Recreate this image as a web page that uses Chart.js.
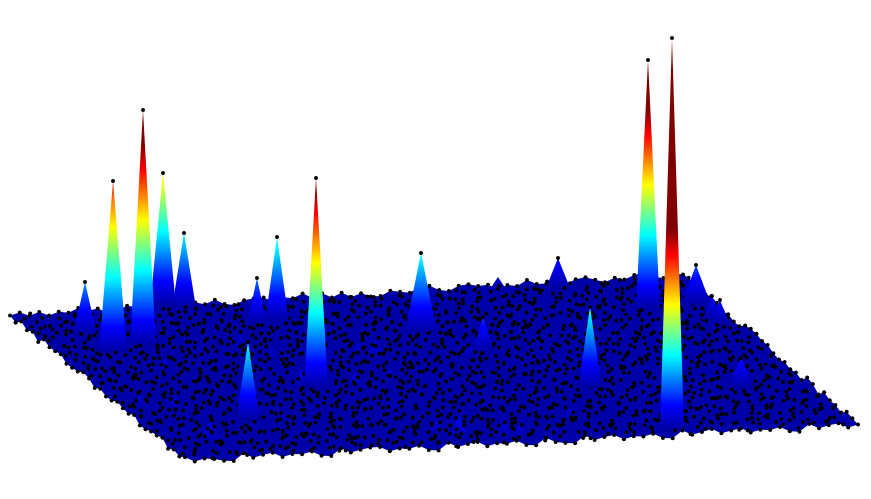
<!DOCTYPE html>
<html><head><meta charset="utf-8">
<style>html,body{margin:0;padding:0;background:#fff}canvas{display:block}</style>
<script src="https://cdn.jsdelivr.net/npm/chart.js@4"></script></head>
<body><canvas id="c" width="871" height="499"></canvas>
<script>
// Surface corners: left, back, right, front
const cornerX = [10, 683, 858, 185];
const cornerY = [315, 274, 425, 460];
// Floor relief read as small digit offsets, one string per row, back to front
const floorRows = [
"4726153846027519941638205771649382715006429931785604293371684052793164",
"1583607942635118407295361480072653917408263519470283651947206381594726",
"8140738295116408273591640082537196428053371964820537196480257319640825",
"3659026471830592644718305926718305926471835902677183590264473583902647",
"7291460538271496053827114960382749605338274196053827419605538274196053",
"0527918364470162938855120764391826047733915086242719053864118730629457",
"9406382957149063829571406382295714603829571460382957146038957146038295",
"5932014682593720146882593720146825937201468593720114685937014685937201",
"6618402975533170846229075138864420961735208147796350218864073915246083",
"8362514970386251497033862514970386251497368251497036825149703682514970",
"2604839572604839517226048395172604839572648395172604839517264839517260",
"3927150468812630974451862093377140582669031478825196340072563918841627",
"4791203864791520386447915203864791203864915203886479152038649152038649",
"9318054627931805462793118054627931805462731805462793180546273180546279",
"7250941386601837254499016248753362187094520736148895203176644098215736",
"1572964381572906438157729064381572906438572906438157290643572906438157",
"6834097251683409725168340097251683409725134097251683409725134097251683",
"2186473095514927038866130572491708826453390125764438019672255840936171",
"3049681725304968172530049681725304968172549681725304968172549681725304",
"7218593064721859306472218593064721859306418593064721859306418593064721",
"5709326184470825913362194057786031249558820637191446027358391176052843",
"4160752938416075293841160752938416075293607529384160752938607529384160",
"8529317406852931740688529317406852931740293174068529317406293174068529",
"1348860527793164025118275946603397812045562938074411695283706235841907",
"2697401835269740183526697401835269740183740183526974018357401835269740",
"5380692475381069247553810692475381069241069247538106924710692475381069",
"6092714835528140967373561820449167305288214069733551892406176320984515",
"9742630581974263058197742630581974263058263058197426305863058197426305",
"1405792631405879263114058792631405879265879263140587926387926314058792",
"6037281956037284195660372841956037284192841956037284195684195603728419",
"3891462073891546207338915462073891546204620738915462073862073891546207",
"8254109368254710936882547109368254710931093682547109369368254710936825"
];
// Tall peaks sorted by base position: x, top, base, half width
const peakX    = [558, 696, 184, 163, 648, 712, 720, 257, 277, 85, 421, 143, 113, 483, 316, 590, 741, 248, 672];
const peakTop  = [258, 265, 233, 173, 60, 296, 300, 278, 237, 282, 253, 110, 181, 317, 178, 307, 358, 342, 38];
const peakBase = [288, 305, 308, 306, 310, 320, 325, 325, 322, 335, 332, 345, 352, 352, 388, 388, 388, 420, 430];
const peakHalf = [12, 15, 12, 13, 12, 10, 10, 10, 12, 12, 16, 13, 14, 11, 12, 12, 13, 12, 12];
// Low hills on the floor
const hillX    = [498, 210, 459, 503, 436, 375, 358, 355, 165, 175, 140, 195, 272, 570, 708, 625, 398, 522, 300, 390, 240, 680, 520, 470, 120];
const hillTop  = [277, 422, 415, 418, 420, 340, 342, 372, 358, 396, 395, 340, 347, 408, 403, 368, 398, 326, 370, 368, 335, 350, 424, 344, 330];
const hillBase = [292, 445, 442, 438, 435, 360, 358, 390, 375, 412, 410, 355, 360, 424, 416, 380, 412, 340, 388, 384, 350, 372, 440, 360, 345];
const hillHalf = [10, 14, 11, 11, 11, 12, 9, 10, 9, 9, 8, 9, 9, 12, 11, 10, 10, 10, 10, 10, 10, 10, 10, 10, 9];
const jetStops = [[0,'#00009e'],[0.125,'#0000ff'],[0.375,'#00ffff'],[0.625,'#ffff00'],[0.875,'#ff0000'],[1,'#800000']];
const colourSpan = 200, reliefStep = 0.8, driftStep = 1.1;

const nv = floorRows.length, nu = floorRows[0].length;
function gridPoint(v, u, drift) {
  const a = u / (nu - 1), b = v / (nv - 1);
  const x = (1-a)*(1-b)*cornerX[0] + a*(1-b)*cornerX[1] + a*b*cornerX[2] + (1-a)*b*cornerX[3];
  const y = (1-a)*(1-b)*cornerY[0] + a*(1-b)*cornerY[1] + a*b*cornerY[2] + (1-a)*b*cornerY[3];
  const d = Number(floorRows[v][u]);
  const e = drift ? (Number(floorRows[(v + 7) % nv][(u + 3) % nu]) - 4.5) * driftStep : 0;
  return {x: x + e, y: y - (d - 4.5) * reliefStep + e * 0.42};
}
const edgeTop = [], edgeBottom = [], allDots = [];
for (let u = 0; u < nu; u++) edgeTop.push(gridPoint(0, u, false));
for (let v = 1; v < nv; v++) edgeTop.push(gridPoint(v, nu - 1, false));
for (let v = 0; v < nv; v++) edgeBottom.push(gridPoint(v, 0, false));
for (let u = 1; u < nu; u++) edgeBottom.push(gridPoint(nv - 1, u, false));
for (let v = 0; v < nv; v++) for (let u = 0; u < nu; u++) {
  const onEdge = v === 0 || u === 0 || v === nv - 1 || u === nu - 1;
  allDots.push(gridPoint(v, u, !onEdge));
}

function jetFill(base) {
  return (ctx) => {
    const s = ctx.chart.scales.y;
    const y0 = s ? s.getPixelForValue(base) : NaN, y1 = s ? s.getPixelForValue(base - colourSpan) : NaN;
    if (!Number.isFinite(y0) || !Number.isFinite(y1)) return '#00009e';
    const g = ctx.chart.ctx.createLinearGradient(0, y0, 0, y1);
    jetStops.forEach(([t, c]) => g.addColorStop(t, c));
    return g;
  };
}
function cone(x, top, base, half) {
  return {
    type: 'line',
    data: [{x: x - half, y: base}, {x, y: top}, {x: x + half, y: base}],
    borderWidth: 0, pointRadius: 0, tension: 0,
    fill: {value: base}, backgroundColor: jetFill(base)
  };
}
function dotLayer(data) {
  return {type: 'scatter', data, pointRadius: 2, pointBorderWidth: 0, pointBackgroundColor: '#000', showLine: false};
}
const datasets = [];
datasets.push({type: 'line', data: edgeTop, borderWidth: 0, pointRadius: 0, tension: 0, fill: 1, backgroundColor: '#0000a8'});
datasets.push({type: 'line', data: edgeBottom, borderWidth: 0, pointRadius: 0, tension: 0, fill: false});
hillX.forEach((x, i) => datasets.push(cone(x, hillTop[i], hillBase[i], hillHalf[i])));
let prev = -Infinity;
peakX.forEach((x, i) => {
  const limit = peakBase[i];
  datasets.push(dotLayer(allDots.filter(p => p.y > prev && p.y <= limit)));
  datasets.push(cone(x, peakTop[i], limit, peakHalf[i]));
  prev = limit;
});
datasets.push(dotLayer(allDots.filter(p => p.y > prev)));
datasets.push(dotLayer(peakX.map((x, i) => ({x, y: peakTop[i]}))));
datasets.forEach((d, i) => { d.order = datasets.length - i; });

const chart = new Chart(document.getElementById('c'), {
  data: {datasets},
  options: {
    responsive: false, animation: false,
    layout: {padding: 0, autoPadding: false},
    plugins: {legend: {display: false}, tooltip: {enabled: false}},
    scales: {
      x: {type: 'linear', min: 0, max: 871, display: false},
      y: {type: 'linear', min: 0, max: 499, reverse: true, display: false}
    }
  }
});
chart.update();
</script></body></html>
